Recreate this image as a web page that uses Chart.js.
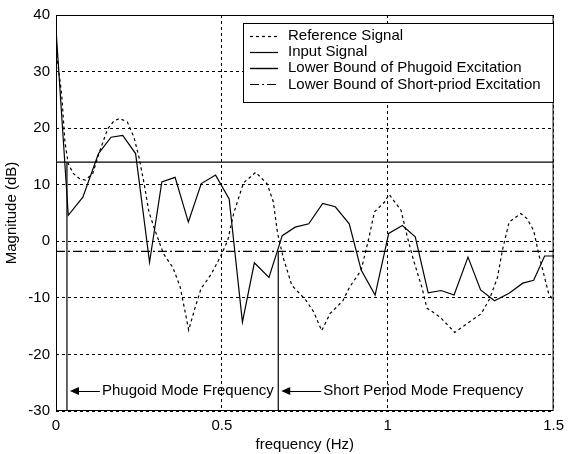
<!DOCTYPE html>
<html>
<head>
<meta charset="utf-8">
<script src="https://cdn.jsdelivr.net/npm/chart.js@4/dist/chart.umd.min.js"></script>
<style>
  body { margin: 0; background: #fff; }
  canvas { display: block; }
</style>
</head>
<body>
<canvas id="spectrum" width="570" height="454"></canvas>
<script>
// frequency response of the test signals (Hz, dB)
const refFreq = [0, 0.017, 0.027, 0.037, 0.052, 0.070, 0.088, 0.111, 0.131, 0.156, 0.175, 0.192,
  0.215, 0.235, 0.250, 0.265, 0.280, 0.298, 0.324, 0.352, 0.374, 0.389, 0.400, 0.419, 0.437,
  0.468, 0.495, 0.518, 0.536, 0.565, 0.602, 0.637, 0.655, 0.668, 0.686, 0.711, 0.752, 0.777,
  0.801, 0.826, 0.865, 0.885, 0.920, 0.944, 0.960, 0.990, 1.004, 1.040, 1.059, 1.078, 1.103,
  1.118, 1.158, 1.202, 1.238, 1.282, 1.307, 1.331, 1.346, 1.366, 1.401, 1.420, 1.440, 1.455,
  1.470, 1.485, 1.500];
const refDb = [34, 26, 17.5, 13.7, 12, 11.1, 10.8, 12, 15.8, 19.9, 21.3, 21.7,
  21.1, 18.4, 14.9, 10.4, 5.2, 2.0, -2.2, -4.6, -8.0, -12.4, -15.7, -11.8, -8.4,
  -5.8, -2.8, 0.2, 5, 10.3, 12.2, 10.1, 7, 1.4, -3.1, -7.8, -10.3, -12.5,
  -15.8, -12.8, -10.5, -8.1, -5.1, 0.8, 5.2, 6.9, 8.3, 5.5, 0.8, -3.4, -8.1,
  -11.8, -13.4, -16.1, -14.6, -12.8, -10.2, -6.4, -1.5, 3.4, 4.9, 4.0, 1.9, -2.2,
  -5.7, -9.2, -10.5];

const inputFreq = [0, 0.037, 0.081, 0.128, 0.166, 0.201, 0.240, 0.282, 0.319, 0.359, 0.399,
  0.438, 0.481, 0.522, 0.562, 0.598, 0.642, 0.682, 0.721, 0.762, 0.804, 0.842, 0.884, 0.920,
  0.962, 1.003, 1.044, 1.083, 1.122, 1.161, 1.200, 1.242, 1.280, 1.322, 1.366, 1.407, 1.440,
  1.473, 1.52];
const inputDb = [37.5, 4.6, 7.8, 15.5, 18.4, 18.7, 15.5, -3.7, 10.5, 11.3, 3.4,
  10.2, 11.7, 7.5, -14.3, -3.8, -6.4, 1.0, 2.5, 3.1, 6.7, 6.1, 3.1, -5.1,
  -9.5, 1.4, 2.8, 0.8, -9.1, -8.7, -9.5, -2.8, -8.6, -10.5, -9.2, -7.4, -6.9,
  -2.6, -2.6];

// excitation lower bounds (dB) and mode frequencies (Hz)
const phugoidBound = 14;
const shortPeriodBound = -1.8;
const phugoidFreq = 0.033;
const shortPeriodFreq = 0.67;

const legendNames = ['Reference Signal', 'Input Signal', 'Lower Bound of Phugoid Excitation',
  'Lower Bound of Short-priod Excitation'];
const modeNames = ['Phugoid Mode Frequency', 'Short Period Mode Frequency'];

const freqTicks = [0, 0.5, 1, 1.5];
const dbTicks = [-30, -20, -10, 0, 10, 20, 30, 40];

const FONT = '"Liberation Sans", Arial, sans-serif';
const pairs = (xs, ys) => xs.map((x, i) => ({ x: x, y: ys[i] }));

// white legend box inside the top right of the plot
const legendBox = {
  id: 'legendBox',
  afterDraw(chart) {
    const ctx = chart.ctx;
    ctx.save();
    ctx.fillStyle = '#fff';
    ctx.fillRect(243.5, 23.5, 310, 79);
    ctx.strokeStyle = '#000';
    ctx.lineWidth = 1;
    ctx.setLineDash([]);
    ctx.strokeRect(243.5, 23.5, 310, 79);
    ctx.font = '15px ' + FONT;
    ctx.textBaseline = 'middle';
    ctx.fillStyle = '#000';
    legendNames.forEach((name, i) => {
      const ds = chart.data.datasets[i];
      const y = 35.5 + i * 16.3;
      ctx.setLineDash(ds.borderDash || []);
      ctx.lineWidth = ds.borderWidth;
      ctx.beginPath();
      ctx.moveTo(250, Math.round(y) + 0.5);
      ctx.lineTo(278, Math.round(y) + 0.5);
      ctx.stroke();
      ctx.setLineDash([]);
      ctx.fillText(name, 288, y);
    });
    ctx.restore();
  }
};

// plot frame plus the arrows pointing at the mode frequency lines
const frameAndArrows = {
  id: 'frameAndArrows',
  afterDatasetsDraw(chart) {
    const ctx = chart.ctx;
    const a = chart.chartArea;
    ctx.save();
    ctx.strokeStyle = '#000';
    ctx.lineWidth = 1;
    ctx.setLineDash([]);
    ctx.strokeRect(a.left + 0.5, a.top + 0.5, a.right - a.left - 1, a.bottom - a.top - 1);

    const xs = chart.scales.x;
    const y = 391;
    const lens = [30, 40];
    ctx.fillStyle = '#000';
    ctx.font = '15px ' + FONT;
    ctx.textBaseline = 'middle';
    [phugoidFreq, shortPeriodFreq].forEach((f, i) => {
      const tip = xs.getPixelForValue(f) + 3;
      const end = tip + lens[i];
      ctx.beginPath();
      ctx.moveTo(tip, y);
      ctx.lineTo(tip + 9, y - 4);
      ctx.lineTo(tip + 9, y + 4);
      ctx.closePath();
      ctx.fill();
      ctx.beginPath();
      ctx.moveTo(tip + 8, y + 0.5);
      ctx.lineTo(end, y + 0.5);
      ctx.stroke();
      ctx.fillText(modeNames[i], end + 2, y);
    });
    ctx.restore();
  }
};

const line = (data, dash, width) => ({
  data: data,
  borderColor: '#000',
  borderWidth: width || 1.2,
  borderDash: dash,
  pointRadius: 0,
  fill: false,
  tension: 0
});

new Chart(document.getElementById('spectrum'), {
  type: 'line',
  data: {
    datasets: [
      line(pairs(refFreq, refDb), [3, 3]),
      line(pairs(inputFreq, inputDb), []),
      line([{ x: 0, y: phugoidBound }, { x: 1.5, y: phugoidBound }], [], 1.4),
      line([{ x: 0, y: shortPeriodBound }, { x: 1.5, y: shortPeriodBound }], [9, 3, 2, 3]),
      line([{ x: phugoidFreq, y: -30 }, { x: phugoidFreq, y: phugoidBound }], []),
      line([{ x: shortPeriodFreq, y: -30 }, { x: shortPeriodFreq, y: shortPeriodBound }], [])
    ]
  },
  options: {
    responsive: false,
    animation: false,
    layout: { padding: { top: 15, right: 10, left: 0, bottom: 0 } },
    plugins: { legend: { display: false }, tooltip: { enabled: false } },
    scales: {
      x: {
        type: 'linear',
        min: 0,
        max: 1.5,
        afterBuildTicks: s => { s.ticks = freqTicks.map(v => ({ value: v })); },
        afterFit: s => { s.height = 43; },
        grid: { color: '#000', lineWidth: 1, drawTicks: false },
        border: { display: false, dash: [3, 3] },
        ticks: { color: '#000', font: { family: FONT, size: 15 }, padding: 6, maxRotation: 0,
          callback: v => String(v) },
        title: { display: true, text: 'frequency (Hz)', color: '#000',
          font: { family: FONT, size: 15 }, padding: { top: 1, bottom: 0 } }
      },
      y: {
        type: 'linear',
        min: -30,
        max: 40,
        afterBuildTicks: s => { s.ticks = dbTicks.map(v => ({ value: v })); },
        afterFit: s => { s.width = 56; },
        grid: { color: '#000', lineWidth: 1, drawTicks: false },
        border: { display: false, dash: [3, 3] },
        ticks: { color: '#000', font: { family: FONT, size: 15 }, padding: 6 },
        title: { display: true, text: 'Magnitude (dB)', color: '#000',
          font: { family: FONT, size: 15 }, padding: { top: 3, bottom: 0 } }
      }
    }
  },
  plugins: [frameAndArrows, legendBox]
});
</script>
</body>
</html>
